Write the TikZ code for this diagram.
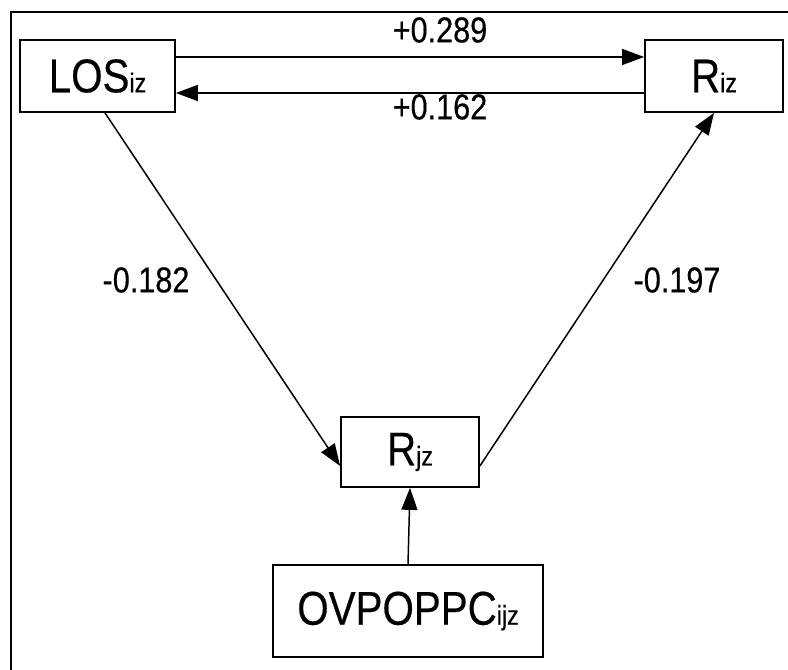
\documentclass[tikz,border=0pt]{standalone}
\usepackage{fontspec}
\setmainfont{Liberation Sans}[FakeStretch=0.85,FakeBold=0.4]
\usepackage{tikz}
\usetikzlibrary{arrows.meta,calc,positioning}
\newcommand{\idx}[1]{{\fontsize{15.5}{15.5}\selectfont #1}}

\begin{document}
\begin{tikzpicture}[
      box/.style={draw,line width=1pt,minimum height=1.44cm,inner sep=0pt,
        font=\fontsize{27}{27}\selectfont},
      lab/.style={font=\fontsize{20.5}{20.5}\selectfont},
      arr/.style={-{Triangle[length=0.44cm,width=0.32cm]},line width=0.85pt}]
      \useasboundingbox (0,0) rectangle (15.76,13.4);
      \draw[line width=1.3pt] (0.22,0) -- (0.22,13.16) -- (15.76,13.16);
      \node[box,minimum width=3.1cm] (los) at (1.95,11.88) {LOS\idx{iz}};
      \node[box,minimum width=2.76cm] (riz) at (14.28,11.88) {R\idx{iz}};
      \node[box,minimum width=2.76cm,minimum height=1.4cm] (rjz) at (8.2,4.36) {R\idx{jz}};
      \node[box,minimum width=5.4cm,minimum height=1.84cm] (ovp) at (8.16,1.18) {OVPOPPC\idx{ijz}};
      \draw[arr] ([yshift=0.38cm]los.east) -- ([yshift=0.38cm]riz.west);
      \draw[arr] ([yshift=-0.34cm]riz.west) -- ([yshift=-0.34cm]los.east);
      \draw[arr] ([xshift=0.15cm]los.south) -- ([yshift=-0.28cm]rjz.west);
      \draw[arr] ([yshift=-0.28cm]rjz.east) -- (riz.south);
      \draw[arr] (ovp.north) -- (rjz.south);
      \node[lab] (w1) at (8.8,12.8) {+0.289};
      \node[lab] (w2) at (8.8,11.26) {+0.162};
      \node[lab] (w3) at (2.92,7.8) {-0.182};
      \node[lab] (w4) at (13.54,7.8) {-0.197};
    \end{tikzpicture}
\end{document}
